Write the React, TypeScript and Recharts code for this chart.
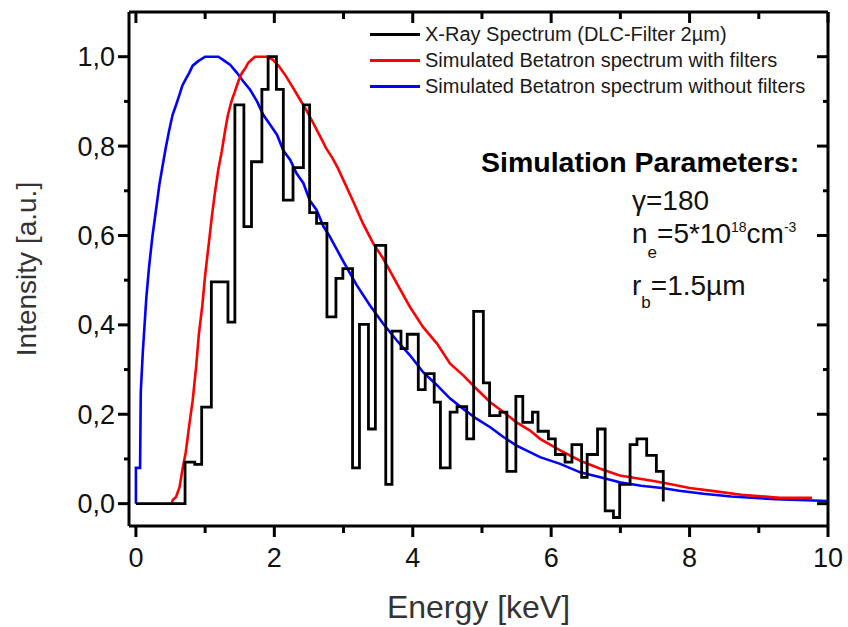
import { ComposedChart, Legend, Line, XAxis, YAxis } from "recharts";

// x-ray spectrum, measured (step histogram, left edges)
const XRAY_EDGES = [
  0, 0.71, 0.85, 0.95, 1.09, 1.33, 1.43, 1.56, 1.67, 1.82, 1.91, 2.03, 2.13, 2.27, 2.42,
  2.51, 2.61, 2.76, 2.89, 2.99, 3.13, 3.23, 3.36, 3.46, 3.61, 3.7, 3.83, 3.92, 4.08, 4.18,
  4.31, 4.4, 4.54, 4.64, 4.78, 4.88, 5.02, 5.11, 5.26, 5.36, 5.49, 5.59, 5.73, 5.81, 5.96,
  6.06, 6.2, 6.3, 6.44, 6.52, 6.67, 6.78, 6.9, 6.99, 7.14, 7.24, 7.38, 7.52, 7.62,
];
const XRAY_INTENSITY = [
  0, 0.093, 0.088, 0.216, 0.496, 0.406, 0.892, 0.62, 0.765, 0.927, 1.0, 0.927, 0.679, 0.752,
  0.892, 0.651, 0.627, 0.418, 0.504, 0.526, 0.08, 0.401, 0.167, 0.578, 0.043, 0.386, 0.347,
  0.379, 0.255, 0.291, 0.227, 0.08, 0.205, 0.217, 0.145, 0.43, 0.27, 0.197, 0.205, 0.072,
  0.24, 0.182, 0.205, 0.162, 0.145, 0.11, 0.093, 0.132, 0.059, 0.11, 0.167, -0.016, -0.031,
  0.043, 0.132, 0.145, 0.108, 0.072, 0.005,
];

// simulated betatron spectrum with filters
const FILTERED_E = [
  0.52, 0.53, 0.58, 0.63, 0.67, 0.72, 0.77, 0.82, 0.87, 0.91, 0.96, 1.0, 1.05, 1.1, 1.14,
  1.19, 1.24, 1.29, 1.33, 1.38, 1.43, 1.48, 1.53, 1.58, 1.62, 1.67, 1.72, 1.89, 1.98, 2.07,
  2.17, 2.26, 2.36, 2.46, 2.55, 2.65, 2.75, 2.84, 2.92, 3.14, 3.28, 3.43, 3.57, 3.77, 3.96,
  4.15, 4.35, 4.54, 4.73, 4.92, 5.12, 5.31, 5.5, 5.69, 5.84, 6.13, 6.42, 6.71, 6.99, 7.3,
  7.5, 7.75, 8.0, 8.35, 8.75, 9.3, 9.77,
];
const FILTERED_I = [
  0, 0.008, 0.015, 0.037, 0.074, 0.115, 0.175, 0.231, 0.306, 0.38, 0.444, 0.511, 0.578,
  0.646, 0.694, 0.747, 0.788, 0.836, 0.87, 0.9, 0.922, 0.945, 0.963, 0.974, 0.986, 0.993,
  1.0, 1.0, 0.993, 0.978, 0.956, 0.933, 0.907, 0.881, 0.855, 0.825, 0.795, 0.773, 0.75,
  0.676, 0.627, 0.582, 0.549, 0.493, 0.44, 0.395, 0.358, 0.313, 0.287, 0.257, 0.227, 0.205,
  0.182, 0.164, 0.145, 0.119, 0.096, 0.078, 0.063, 0.055, 0.05, 0.043, 0.035, 0.028, 0.02,
  0.013, 0.013,
];

// simulated betatron spectrum without filters
const UNFILTERED_E = [
  0, 0, 0.06, 0.07, 0.1, 0.15, 0.19, 0.24, 0.29, 0.34, 0.39, 0.43, 0.48, 0.53, 0.58, 0.63,
  0.67, 0.72, 0.77, 0.82, 0.9, 1.0, 1.19, 1.26, 1.36, 1.46, 1.55, 1.65, 1.75, 1.84, 1.94,
  2.04, 2.13, 2.23, 2.32, 2.42, 2.51, 2.61, 2.71, 2.8, 3.0, 3.19, 3.38, 3.57, 3.77, 3.96,
  4.15, 4.35, 4.54, 4.73, 4.92, 5.12, 5.31, 5.5, 5.84, 6.13, 6.42, 6.71, 6.99, 7.3, 7.6,
  7.85, 8.2, 8.6, 9.25, 10,
];
const UNFILTERED_I = [
  0, 0.08, 0.08, 0.25, 0.34, 0.46, 0.53, 0.6, 0.657, 0.715, 0.76, 0.795, 0.835, 0.87, 0.892,
  0.915, 0.935, 0.95, 0.964, 0.98, 0.99, 1.0, 1.0, 0.993, 0.982, 0.964, 0.945, 0.926, 0.9,
  0.87, 0.848, 0.825, 0.79, 0.769, 0.739, 0.717, 0.679, 0.657, 0.62, 0.598, 0.541, 0.489,
  0.444, 0.403, 0.365, 0.332, 0.294, 0.265, 0.235, 0.212, 0.19, 0.171, 0.149, 0.13, 0.104,
  0.089, 0.07, 0.059, 0.048, 0.04, 0.035, 0.029, 0.022, 0.016, 0.01, 0.006,
];

const X_TICKS = [0, 1, 2, 3, 4, 5, 6, 7, 8, 9, 10];
const Y_TICKS = [0, 0.1, 0.2, 0.3, 0.4, 0.5, 0.6, 0.7, 0.8, 0.9, 1.0];
const X_DOMAIN = [-0.1, 10];
const Y_DOMAIN = [-0.05, 1.1];

const SERIES_NAMES = [
  "X-Ray Spectrum (DLC-Filter 2µm)",
  "Simulated Betatron spectrum with filters",
  "Simulated Betatron spectrum without filters",
];
const SERIES_COLORS = ["#000000", "#ff0000", "#0000ff"];

const zip = (xs: number[], ys: number[]) => xs.map((x, i) => ({ x, y: ys[i] }));
const xray = zip(XRAY_EDGES, XRAY_INTENSITY);
const filtered = zip(FILTERED_E, FILTERED_I);
const unfiltered = zip(UNFILTERED_E, UNFILTERED_I);

const FONT = '"Liberation Sans", Arial, sans-serif';
const AXIS_LINE = { stroke: "#000", strokeWidth: 3 };
const TICK_COLOR = "#111";

const isMajorX = (v: number) => v % 2 === 0;
const isMajorY = (v: number) => Math.round(v * 10) % 2 === 0;

// tick marks drawn by hand so that minor ticks can be shorter than major ones
function BottomTick(props: any) {
  const x = Number(props.x);
  const y = Number(props.y);
  const v = props.payload.value;
  const len = isMajorX(v) ? 11 : 7;
  return (
    <g>
      <path d={`M${x},${y}V${y + len}`} stroke="#000" strokeWidth={3} fill="none" />
      {isMajorX(v) && (
        <text x={x} y={y + 41} textAnchor="middle" fontSize={27} fill={TICK_COLOR}>
          {v}
        </text>
      )}
    </g>
  );
}

function TopTick(props: any) {
  const x = Number(props.x);
  const y = Number(props.y);
  const len = isMajorX(props.payload.value) ? 11 : 7;
  return <path d={`M${x},${y}V${y + len}`} stroke="#000" strokeWidth={3} fill="none" />;
}

function LeftTick(props: any) {
  const x = Number(props.x);
  const y = Number(props.y);
  const v = props.payload.value;
  const len = isMajorY(v) ? 11 : 5;
  return (
    <g>
      <path d={`M${x - len},${y}H${x}`} stroke="#000" strokeWidth={3} fill="none" />
      {isMajorY(v) && (
        <text x={x - 14} y={y + 9.5} textAnchor="end" fontSize={27} fill={TICK_COLOR}>
          {v.toFixed(1).replace(".", ",")}
        </text>
      )}
    </g>
  );
}

function RightTick(props: any) {
  const x = Number(props.x);
  const y = Number(props.y);
  const len = isMajorY(props.payload.value) ? 11 : 5;
  return <path d={`M${x - len},${y}H${x}`} stroke="#000" strokeWidth={3} fill="none" />;
}

function LegendRows() {
  return (
    <div>
      {SERIES_NAMES.map((name, i) => (
        <div key={name} style={{ display: "flex", alignItems: "center", height: 26 }}>
          <span style={{ width: 50, height: 3, background: SERIES_COLORS[i], marginRight: 5 }} />
          <span style={{ fontSize: 20, color: "#1a1a1a", whiteSpace: "nowrap", lineHeight: "26px" }}>
            {name}
          </span>
        </div>
      ))}
    </div>
  );
}

export default function App() {
  return (
    <div
      style={{
        position: "absolute",
        left: 0,
        top: 0,
        width: 848,
        height: 627,
        background: "#fff",
        fontFamily: FONT,
      }}
    >
      <ComposedChart width={848} height={627} margin={{ top: 11, right: 19, bottom: 0, left: 0 }}>
        <XAxis
          xAxisId="bottom"
          dataKey="x"
          type="number"
          domain={X_DOMAIN}
          allowDataOverflow
          ticks={X_TICKS}
          interval={0}
          height={101}
          tickSize={0}
          tickMargin={0}
          tickLine={false}
          axisLine={AXIS_LINE}
          tick={BottomTick}
          label={{
            value: "Energy [keV]",
            position: "insideBottom",
            offset: 9,
            fontSize: 32,
            fill: "#333",
          }}
        />
        <XAxis
          xAxisId="top"
          orientation="top"
          dataKey="x"
          type="number"
          domain={X_DOMAIN}
          allowDataOverflow
          ticks={X_TICKS}
          interval={0}
          height={1}
          tickSize={0}
          tickMargin={0}
          tickLine={false}
          axisLine={AXIS_LINE}
          tick={TopTick}
        />
        <YAxis
          yAxisId="left"
          type="number"
          domain={Y_DOMAIN}
          allowDataOverflow
          ticks={Y_TICKS}
          interval={0}
          width={129}
          tickSize={0}
          tickMargin={0}
          tickLine={false}
          axisLine={AXIS_LINE}
          tick={LeftTick}
          label={{
            value: "Intensity [a.u.]",
            angle: -90,
            position: "insideLeft",
            offset: 26,
            fontSize: 28,
            fill: "#333",
            style: { textAnchor: "middle" },
          }}
        />
        <YAxis
          yAxisId="right"
          orientation="right"
          type="number"
          domain={Y_DOMAIN}
          allowDataOverflow
          ticks={Y_TICKS}
          interval={0}
          width={1}
          tickSize={0}
          tickMargin={0}
          tickLine={false}
          axisLine={AXIS_LINE}
          tick={RightTick}
        />
        <Legend
          layout="vertical"
          align="center"
          verticalAlign="middle"
          content={LegendRows}
          wrapperStyle={{ left: 370, top: 21, width: 470 }}
        />
        {/* the simulated curves live on the top/right axes, which share the same domains */}
        <Line
          xAxisId="top"
          yAxisId="right"
          data={unfiltered}
          dataKey="y"
          name={SERIES_NAMES[2]}
          type="linear"
          stroke={SERIES_COLORS[2]}
          strokeWidth={2.6}
          dot={false}
          activeDot={false}
          isAnimationActive={false}
        />
        <Line
          xAxisId="top"
          yAxisId="right"
          data={filtered}
          dataKey="y"
          name={SERIES_NAMES[1]}
          type="linear"
          stroke={SERIES_COLORS[1]}
          strokeWidth={2.6}
          dot={false}
          activeDot={false}
          isAnimationActive={false}
        />
        <Line
          xAxisId="bottom"
          yAxisId="left"
          data={xray}
          dataKey="y"
          name={SERIES_NAMES[0]}
          type="stepAfter"
          stroke={SERIES_COLORS[0]}
          strokeWidth={2.8}
          dot={false}
          activeDot={false}
          isAnimationActive={false}
        />
      </ComposedChart>

      {/* simulation parameters annotation */}
      <svg
        width={848}
        height={627}
        style={{ position: "absolute", left: 0, top: 0, pointerEvents: "none" }}
      >
        <g fill="#111" fontSize={28}>
          <text x={481} y={172} fontWeight="bold" fill="#000" fontSize={28.5}>
            Simulation Parameters:
          </text>
          <text x={632} y={210}>γ=180</text>
          <text x={632} y={243}>
            n<tspan dy={15} fontSize={17}>e</tspan>
            <tspan dy={-15}>=5*10</tspan>
            <tspan dy={-11} fontSize={14}>18</tspan>
            <tspan dy={11}>cm</tspan>
            <tspan dy={-11} fontSize={14}>-3</tspan>
          </text>
          <text x={632} y={295}>
            r<tspan dy={13} fontSize={17}>b</tspan>
            <tspan dy={-13}>=1.5µm</tspan>
          </text>
        </g>
      </svg>
    </div>
  );
}
